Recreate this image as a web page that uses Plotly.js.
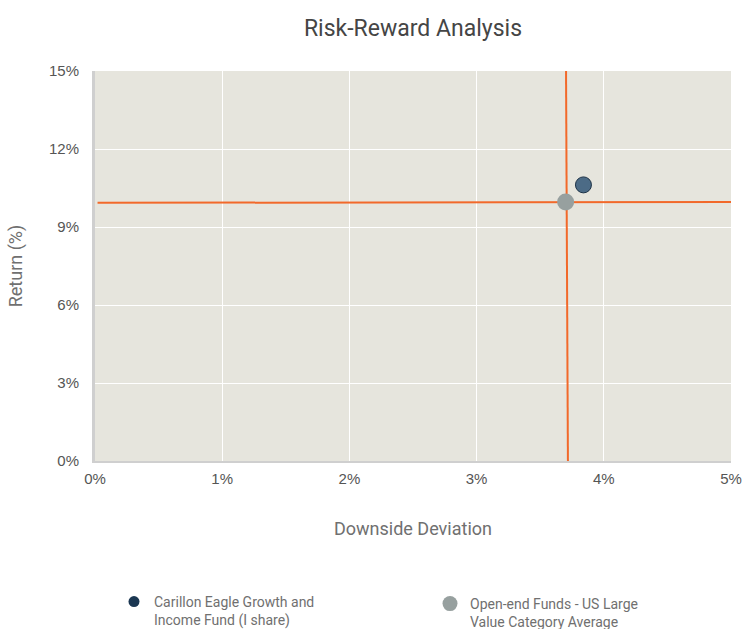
<!DOCTYPE html>
<html><head><meta charset="utf-8">
<script src="https://cdn.plot.ly/plotly-3.0.1.min.js"></script>
<style>body{margin:0;background:#fff}#chart{width:742px;height:629px}</style>
</head><body><div id="chart"></div>
<script>
const seriesNames = ["Carillon Eagle Growth and<br>Income Fund (I share)", "Open-end Funds - US Large<br>Value Category Average"];
const downsideDev = [3.84, 3.70];
const returns = [10.62, 9.96];
const vLineX = [3.703, 3.718];
const vLineY = [15.1, -0.1];
const hLineX = [0.02, 5.0];
const hLineY = [9.93, 9.96];
const xTicks = [0, 1, 2, 3, 4, 5];
const yTicks = [0, 3, 6, 9, 12, 15];

const orange = '#f2692a';
const traces = [
  {x: vLineX, y: vLineY, mode: 'lines', line: {color: orange, width: 2}, showlegend: false, hoverinfo: 'skip', cliponaxis: false},
  {x: hLineX, y: hLineY, mode: 'lines', line: {color: orange, width: 2}, showlegend: false, hoverinfo: 'skip', cliponaxis: false},
  {x: [downsideDev[1]], y: [returns[1]], mode: 'markers', marker: {color: '#97a09f', size: 17, line: {width: 0}}, showlegend: false},
  {x: [downsideDev[0]], y: [returns[0]], mode: 'markers', marker: {color: '#4c6b86', size: 16, line: {color: '#1e3347', width: 1}}, showlegend: false},
  {x: [null], y: [null], mode: 'markers', name: seriesNames[0], legend: 'legend', marker: {color: '#1b3752', size: 11}},
  {x: [null], y: [null], mode: 'markers', name: seriesNames[1], legend: 'legend2', marker: {color: '#97a09f', size: 15}}
];

const legendFont = {family: 'Roboto', size: 14, color: '#707070'};
const layout = {
  width: 742, height: 629,
  margin: {l: 95, r: 11, t: 71, b: 168, autoexpand: false},
  paper_bgcolor: '#fff', plot_bgcolor: '#e6e5dd',
  title: {text: 'Risk-Reward Analysis', x: 0.5, xref: 'paper', xanchor: 'center', y: 0.955, yref: 'container', yanchor: 'middle',
    font: {family: 'Roboto', size: 23, color: '#454545'}},
  xaxis: {range: [0, 5], tickvals: xTicks, ticktext: xTicks.map(v => v + '%'), showgrid: true, gridcolor: '#ffffff', gridwidth: 1,
    zeroline: false, showline: true, linecolor: '#cfcfcf', linewidth: 2, ticks: '', ticklabelstandoff: 3,
    tickfont: {family: 'Liberation Sans, Arial', size: 15, color: '#555'},
    title: {text: 'Downside Deviation', font: {family: 'Roboto', size: 18, color: '#707070'}, standoff: 36}},
  yaxis: {range: [0, 15], tickvals: yTicks, ticktext: yTicks.map(v => v + '%'), showgrid: true, gridcolor: '#ffffff', gridwidth: 1,
    zeroline: false, showline: true, linecolor: '#cfcfcf', linewidth: 3, ticks: '', ticklabelstandoff: 10,
    tickfont: {family: 'Liberation Sans, Arial', size: 15, color: '#555'},
    title: {text: 'Return (%)', font: {family: 'Roboto', size: 18, color: '#707070'}, standoff: 22}},
  legend: {orientation: 'h', x: 114 / 742, xref: 'container', xanchor: 'left', y: 1 - 586 / 629, yref: 'container', yanchor: 'top',
    font: legendFont, itemsizing: 'trace', bgcolor: 'rgba(0,0,0,0)', valign: 'top'},
  legend2: {orientation: 'h', x: 430 / 742, xref: 'container', xanchor: 'left', y: 1 - 588 / 629, yref: 'container', yanchor: 'top',
    font: legendFont, itemsizing: 'trace', bgcolor: 'rgba(0,0,0,0)', valign: 'top'},
  showlegend: true
};
Plotly.newPlot('chart', traces, layout, {displayModeBar: false, staticPlot: true});
</script></body></html>
